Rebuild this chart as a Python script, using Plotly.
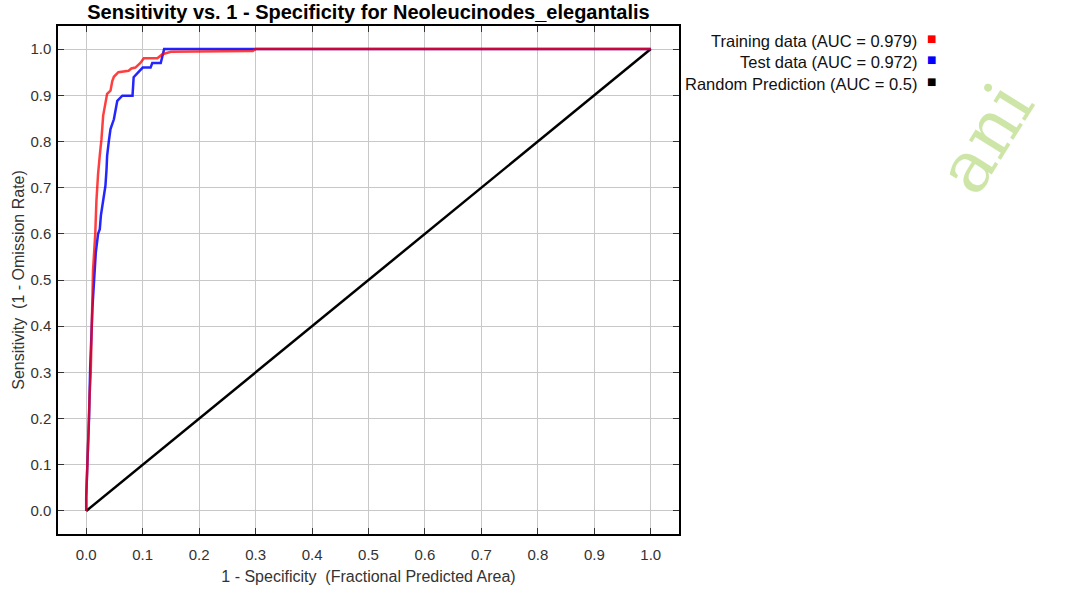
import plotly.graph_objects as go

# ---- data ----
train_x = [0.0, 0.0, 0.002, 0.003, 0.005, 0.006, 0.008, 0.0095, 0.011, 0.012, 0.014, 0.016, 0.018,
           0.019, 0.021, 0.024, 0.027, 0.030, 0.034, 0.037, 0.043, 0.046, 0.049, 0.057, 0.075,
           0.080, 0.087, 0.096, 0.102, 0.126, 0.135, 0.150, 0.295, 0.300, 1.0]
train_y = [0.0, 0.03, 0.10, 0.15, 0.20, 0.25, 0.30, 0.41, 0.45, 0.52, 0.56, 0.60, 0.67,
           0.70, 0.73, 0.77, 0.805, 0.856, 0.88, 0.903, 0.91, 0.93, 0.94, 0.95, 0.953,
           0.958, 0.96, 0.97, 0.98, 0.98, 0.989, 0.994, 0.996, 1.0, 1.0]

test_x = [0.0, 0.0, 0.002, 0.004, 0.005, 0.007, 0.009, 0.011, 0.014, 0.017, 0.021, 0.024, 0.026,
          0.029, 0.034, 0.036, 0.037, 0.040, 0.043, 0.049, 0.052, 0.055, 0.064, 0.082, 0.084,
          0.093, 0.100, 0.114, 0.117, 0.132, 0.138, 1.0]
test_y = [0.0, 0.03, 0.10, 0.15, 0.20, 0.31, 0.38, 0.44, 0.50, 0.56, 0.60, 0.61, 0.64,
          0.668, 0.704, 0.74, 0.769, 0.80, 0.827, 0.848, 0.87, 0.888, 0.899, 0.899, 0.939,
          0.95, 0.96, 0.96, 0.97, 0.97, 1.0, 1.0]

random_x = [0.0, 1.0]
random_y = [0.0, 1.0]

series_names = ["Training data (AUC = 0.979)", "Test data (AUC = 0.972)", "Random Prediction (AUC = 0.5)"]
series_colors = ["#ff0000", "#0000ff", "#000000"]

tick_vals = [round(i * 0.1, 1) for i in range(11)]
tick_text = [f"{v:.1f}" for v in tick_vals]

title_text = "Sensitivity vs. 1 - Specificity for Neoleucinodes_elegantalis"
x_title = "1 - Specificity  (Fractional Predicted Area)"
y_title = "Sensitivity  (1 - Omission Rate)"

FONT = "Liberation Sans, Arial, sans-serif"

W, H = 1066, 589
PL, PR, PT, PB = 58, 679, 26, 534  # plot frame in page pixels

fig = go.Figure()
fig.add_trace(go.Scatter(x=random_x, y=random_y, mode="lines", name=series_names[2],
                         line=dict(color=series_colors[2], width=2.5)))
fig.add_trace(go.Scatter(x=test_x, y=test_y, mode="lines", name=series_names[1],
                         line=dict(color=series_colors[1], width=2.5), opacity=0.85))
fig.add_trace(go.Scatter(x=train_x, y=train_y, mode="lines", name=series_names[0],
                         line=dict(color=series_colors[0], width=2.5), opacity=0.75))

axis_common = dict(
    range=[-0.05, 1.05], tickmode="array", tickvals=tick_vals, ticktext=tick_text,
    showgrid=True, gridcolor="#c8c8c8", gridwidth=1, zeroline=False,
    showline=True, linecolor="black", linewidth=1.5, mirror="allticks",
    ticks="inside", ticklen=6, tickcolor="#333333", tickwidth=1.2,
    tickfont=dict(family=FONT, size=15, color="#333333"),
    automargin=False,
)

fig.update_layout(
    width=W, height=H,
    margin=dict(l=PL, r=W - PR, t=PT, b=H - PB),
    paper_bgcolor="white", plot_bgcolor="white",
    showlegend=False,
    title=dict(text="<b>" + title_text + "</b>", x=((PL + PR) / 2) / W, xanchor="center",
               y=1 - 12 / H, yanchor="middle",
               font=dict(family=FONT, size=20, color="#000000")),
    xaxis=dict(axis_common, ticklabelstandoff=6,
               title=dict(text=x_title, font=dict(family=FONT, size=16, color="#333333"), standoff=9)),
    yaxis=dict(axis_common, ticklabelstandoff=2,
               title=dict(text=y_title, font=dict(family=FONT, size=16, color="#333333"), standoff=2)),
)

# legend as annotations (text right-aligned, colored square to the right)
legend_rows_y = [41, 62, 84]
for name, color, py in zip(series_names, series_colors, legend_rows_y):
    yp = 1 - (py - PT) / (PB - PT)
    fig.add_annotation(xref="paper", yref="paper", x=(919 - PL) / (PR - PL), y=yp,
                       xanchor="right", yanchor="middle", showarrow=False, text=name,
                       font=dict(family=FONT, size=16.5, color="#111111"))
    fig.add_annotation(xref="paper", yref="paper", x=(931 - PL) / (PR - PL), y=yp + 0.004,
                       xanchor="center", yanchor="middle", showarrow=False, text="■",
                       font=dict(family="DejaVu Sans", size=10, color=color))

# watermark
fig.add_annotation(xref="paper", yref="paper", x=(985 - PL) / (PR - PL), y=1 - (138 - PT) / (PB - PT),
                   xanchor="center", yanchor="middle", showarrow=False, text="ani", textangle=-58,
                   font=dict(family="DejaVu Serif, Liberation Serif, serif", size=72, color="#cde6a8"))

fig.write_html("out.html", config={"displayModeBar": False},
               post_script="document.body.style.margin='0';document.body.style.overflow='hidden';")
